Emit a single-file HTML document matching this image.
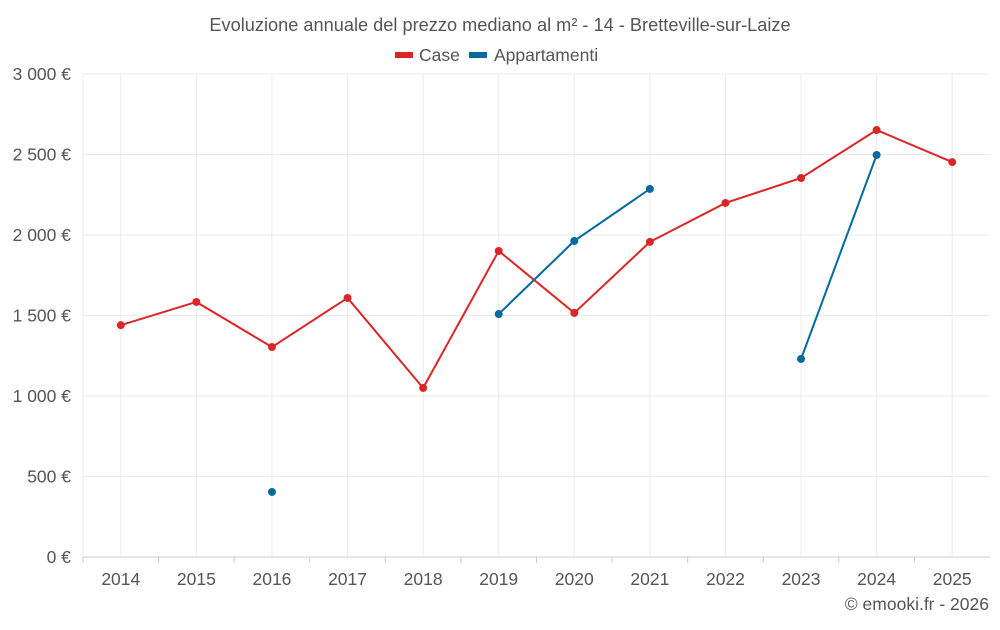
<!DOCTYPE html>
<html><head><meta charset="utf-8"><style>
body{margin:0;background:#fff;font-family:"Liberation Sans",sans-serif;}
svg text{font-family:"Liberation Sans",sans-serif;fill:#555;}
</style></head><body>
<svg id="chart" width="1000" height="625" xmlns="http://www.w3.org/2000/svg">
<text x="500" y="31" text-anchor="middle" font-size="18.2">Evoluzione annuale del prezzo mediano al m² - 14 - Bretteville-sur-Laize</text>
<g>
<g><rect x="395" y="52" width="18" height="6" fill="#dc2626"/><text x="419" y="61" font-size="17.5">Case</text></g>
<g><rect x="469" y="52" width="18" height="6" fill="#0369a1"/><text x="494" y="61" font-size="17.5">Appartamenti</text></g>
</g>
<g id="grid"></g><g id="axes"></g><g id="series"></g>
<text x="989" y="610" text-anchor="end" font-size="17.5">© emooki.fr - 2026</text>
</svg>
<script>
const years=["2014","2015","2016","2017","2018","2019","2020","2021","2022","2023","2024","2025"];
const caseValues=[1440,1584,1304,1609,1050,1901,1516,1957,2199,2354,2652,2453];
const apptValues=[null,null,404,null,null,1509,1963,2286,null,1230,2497,null];
const yTicks=[0,500,1000,1500,2000,2500,3000];
const yTickLabels=["0 €","500 €","1 000 €","1 500 €","2 000 €","2 500 €","3 000 €"];
const L=83,R=990,T=74,B=557,yMax=3000;
const bw=(R-L)/years.length;
const x=i=>L+bw*(i+0.5);
const y=v=>B-(v/yMax)*(B-T);
const NS="http://www.w3.org/2000/svg";
function mk(p,tag,a){const e=document.createElementNS(NS,tag);for(const k in a)e.setAttribute(k,a[k]);p.appendChild(e);return e;}
const grid=document.getElementById('grid'),axes=document.getElementById('axes'),ser=document.getElementById('series');
yTicks.forEach((v,i)=>{
 const g=mk(grid,'line',{x1:L,x2:R,y1:y(v),y2:y(v),stroke:i==0?'#ccc':'#ebebeb'});
 
 
 const t=mk(axes,'text',{x:L-12,y:y(v)+6,'text-anchor':'end','font-size':17.5});
 t.textContent=yTickLabels[i];
 
 
});
mk(grid,'line',{x1:L,x2:L,y1:T,y2:B,stroke:'#ebebeb'});
years.forEach((yr,i)=>{
 const g=mk(grid,'line',{x1:x(i),x2:x(i),y1:T,y2:B,stroke:'#ebebeb'});
 
 
 mk(axes,'line',{x1:L+bw*i,x2:L+bw*i,y1:B,y2:B+6,stroke:'#ccc'});
 const t=mk(axes,'text',{x:x(i),y:B+28,'text-anchor':'middle','font-size':17.5});
 t.textContent=yr;
 
 
});
function draw(vals,color,name){
 let seg=[];const segs=[];
 vals.forEach((v,i)=>{if(v==null){if(seg.length)segs.push(seg);seg=[];}else seg.push([x(i),y(v)]);});
 if(seg.length)segs.push(seg);
 segs.forEach(s=>{if(s.length>1){const p=mk(ser,'polyline',{points:s.map(q=>q.join(',')).join(' '),fill:'none',stroke:color,'stroke-width':2});
  
  }});
 vals.forEach((v,i)=>{if(v==null)return;const c=mk(ser,'circle',{cx:x(i),cy:y(v),r:4,fill:color});
  
  });
}
draw(caseValues,'#dc2626','case');
draw(apptValues,'#0369a1','appartamenti');
</script>
</body></html>
